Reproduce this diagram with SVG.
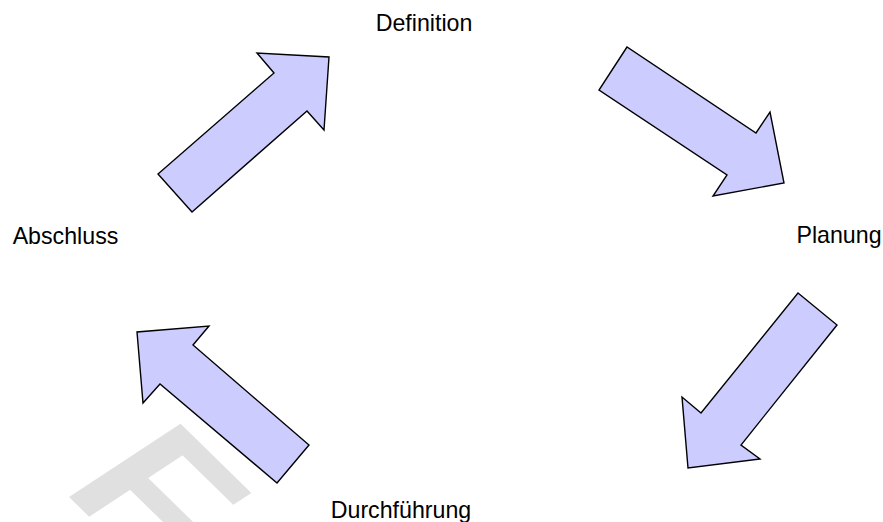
<svg xmlns="http://www.w3.org/2000/svg" width="883" height="522" viewBox="0 0 883 522">
<style>
.arrow{fill:#ccccff;stroke:#000;stroke-width:1.4;stroke-linejoin:miter}
.lbl{font-family:"Liberation Sans",Arial,sans-serif;font-size:23.2px;fill:#000;text-anchor:middle}
.wm{font-family:"Liberation Sans",Arial,sans-serif;font-weight:bold;font-size:100px;fill:#e0e0e0}
</style>
<rect width="883" height="522" fill="#fff"/>
<g id="watermark"><text class="wm" transform="matrix(1.396,1.361,-1.62,1.066,59.8,488.1)">F</text></g>
<g id="connectors">
<polygon class="arrow" points="158,174 192,212 307,111 324,130 329,57 257,53 274,73"/>
<polygon class="arrow" points="627,47 599,90 727,175 713,196 784,183 770,112 756,133"/>
<polygon class="arrow" points="798,293 837,325 741,445 760,459 688,468 682,397 701,413"/>
<polygon class="arrow" points="309,445 277,483 160,384 143,403 137,332 209,326 193,345"/>
</g>
<g id="n-definition"><text class="lbl" x="424" y="31">Definition</text></g>
<g id="n-planung"><text class="lbl" x="839" y="243">Planung</text></g>
<g id="n-durchfuehrung"><text class="lbl" x="401" y="518">Durchführung</text></g>
<g id="n-abschluss"><text class="lbl" x="65.5" y="243.5">Abschluss</text></g>
</svg>
